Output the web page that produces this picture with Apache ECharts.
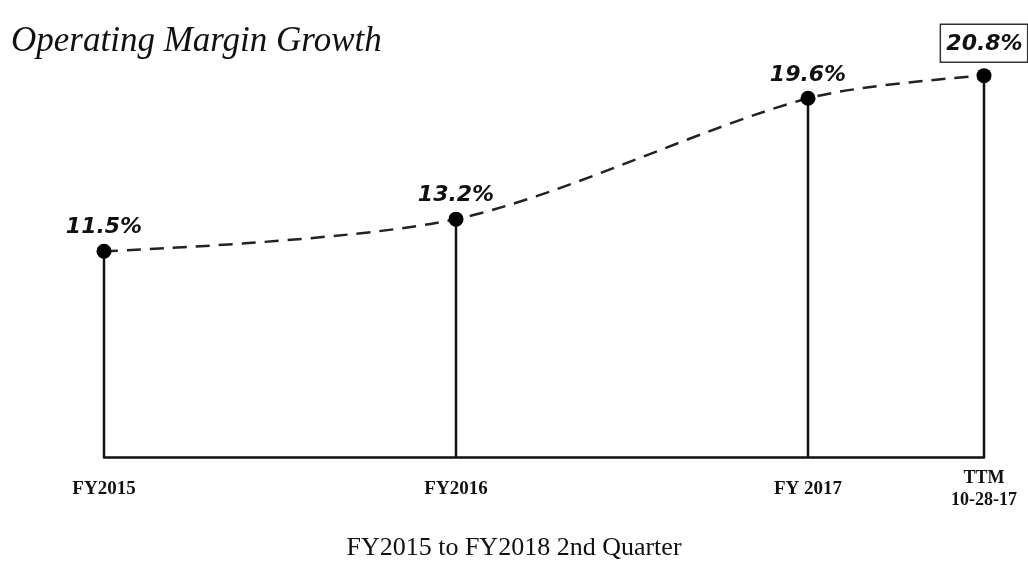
<!DOCTYPE html>
<html>
<head>
<meta charset="utf-8">
<script src="https://cdn.jsdelivr.net/npm/echarts@6/dist/echarts.min.js"></script>
<style>html,body{margin:0;padding:0;background:#fff}#c{width:1028px;height:566px}</style>
</head>
<body>
<div id="c"></div>
<script>
const categories = ['FY2015', 'FY2016', 'FY 2017', 'TTM\n10-28-17'];
const positions = [0, 1, 2, 2.5];
const values = [11.5, 13.2, 19.6, 20.8];
const valueLabels = ['11.5%', '13.2%', '19.6%', '20.8%'];

const pts = positions.map((p, i) => [p, values[i]]);
const chart = echarts.init(document.getElementById('c'));
chart.setOption({
  backgroundColor: '#fff',
  animation: false,
  title: [
    { text: 'Operating Margin Growth', left: 6, top: 19,
      textStyle: { fontFamily: 'Liberation Serif', fontStyle: 'italic', fontWeight: 'normal', fontSize: 35, color: '#111' } },
    { text: 'FY2015 to FY2018 2nd Quarter', left: 'center', top: 530,
      textStyle: { fontFamily: 'Liberation Serif', fontWeight: 'normal', fontSize: 26, color: '#111' } }
  ],
  grid: { left: 104, right: 44, top: 53, bottom: 109 },
  xAxis: {
    type: 'value', min: 0, max: 2.5,
    splitLine: { show: false },
    axisTick: { show: false },
    axisLine: { show: true, lineStyle: { color: '#111', width: 2.5 } },
    axisLabel: {
      customValues: positions,
      margin: 10,
      formatter: function (v) {
        const i = positions.indexOf(v);
        if (i < 0) return '';
        const t = categories[i];
        return t.indexOf('\n') >= 0 ? '{b|' + t.split('\n').join('}\n{b|') + '}' : '{a|' + t + '}';
      },
      rich: {
        a: { fontFamily: 'Liberation Serif', fontWeight: 'bold', fontSize: 19, color: '#111', padding: [13, 0, 0, 0] },
        b: { fontFamily: 'Liberation Serif', fontWeight: 'bold', fontSize: 18, color: '#111', lineHeight: 22 }
      }
    }
  },
  yAxis: { type: 'value', min: 0.6, max: 22, show: false, splitLine: { show: false } },
  series: [
    {
      type: 'bar', data: pts, barWidth: 2.5, clip: true,
      itemStyle: { color: '#111' }, silent: true
    },
    {
      type: 'line', smooth: 0.3,
      symbol: 'circle', symbolSize: 15,
      itemStyle: { color: '#000' },
      lineStyle: { color: '#222', width: 2.5, type: [14, 9] },
      label: {
        show: true, position: 'top', distance: 5,
        formatter: p => valueLabels[p.dataIndex],
        fontFamily: 'DejaVu Sans', fontStyle: 'italic', fontWeight: 'bold', fontSize: 22, color: '#111'
      },
      labelLayout: { hideOverlap: false },
      data: pts.map((d, i) => i === 3 ? {
        value: d,
        label: { borderColor: '#333', borderWidth: 1.5, padding: [9, 5, 7, 6], distance: 6, offset: [-7, 0] }
      } : d)
    }
  ]
});
</script>
</body>
</html>
